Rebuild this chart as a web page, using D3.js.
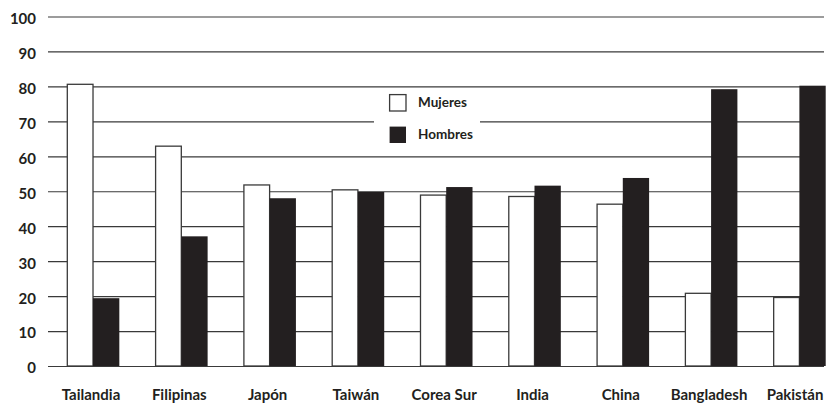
<!DOCTYPE html>
<html>
<head>
<meta charset="utf-8">
<script src="https://cdn.jsdelivr.net/npm/d3@7"></script>
<style>
  html, body { margin: 0; padding: 0; background: #fff; }
  svg { display: block; }
  text { font-family: Lato, "Open Sans", sans-serif; font-weight: 700; fill: #231f20; }
</style>
</head>
<body>
<svg id="chart" width="827" height="405"></svg>
<script>
const categories = ["Tailandia", "Filipinas", "Japón", "Taiwán", "Corea Sur", "India", "China", "Bangladesh", "Pakistán"];
const seriesNames = ["Mujeres", "Hombres"];
const mujeres = [80.6, 62.9, 51.8, 50.4, 48.9, 48.5, 46.3, 20.8, 19.6];
const hombres = [19.4, 37.1, 48.0, 49.8, 51.2, 51.6, 53.8, 79.2, 80.2];
const yTicks = [0, 10, 20, 30, 40, 50, 60, 70, 80, 90, 100];

const svg = d3.select("#chart");
const dark = "#231f20";

const y = d3.scaleLinear().domain([0, 100]).range([366, 16.5]);
const x0 = d3.scaleBand().domain(categories).range([66.7, 825.7]).paddingInner(0.404).paddingOuter(0);
const x1 = d3.scaleBand().domain(seriesNames).range([0, x0.bandwidth()]).padding(0);
const color = d3.scaleOrdinal().domain(seriesNames).range(["#ffffff", dark]);

// gridlines + y labels
const gx = 48, gRight = 824;
const yAxis = d3.axisLeft(y).tickValues(yTicks).tickSize(-(gRight - gx)).tickPadding(12).tickFormat(d3.format("d"));
const ga = svg.append("g").attr("transform", `translate(${gx},0)`).call(yAxis);
ga.select(".domain").remove();
ga.selectAll(".tick line").attr("stroke", "#3a3a3a").attr("stroke-width", 1.2);
ga.selectAll(".tick text").attr("font-size", 15).attr("font-family", null).attr("fill", dark).attr("dy", "0.46em");

// legend background (interrupts the gridline)
svg.append("rect").attr("x", 374).attr("y", 89.5).attr("width", 106).attr("height", 66).attr("fill", "#fff");

// bars
const data = categories.map((c, i) => ({ cat: c, vals: [{ s: "Mujeres", v: mujeres[i] }, { s: "Hombres", v: hombres[i] }] }));
const groups = svg.append("g").selectAll("g").data(data).join("g")
  .attr("transform", d => `translate(${x0(d.cat)},0)`);
groups.selectAll("rect").data(d => d.vals).join("rect")
  .attr("x", d => x1(d.s) + (d.s === "Mujeres" ? 0.6 : 0))
  .attr("y", d => y(d.v))
  .attr("width", d => x1.bandwidth() - (d.s === "Mujeres" ? 0.6 : 0))
  .attr("height", d => y(0) - y(d.v))
  .attr("fill", d => color(d.s))
  .attr("stroke", d => d.s === "Mujeres" ? "#3a3a3a" : "none")
  .attr("stroke-width", 1.3);

// x labels
svg.append("g").selectAll("text").data(categories).join("text")
  .attr("x", d => Math.min(x0(d) + x0.bandwidth() / 2 - 2, 795))
  .attr("y", 400)
  .attr("text-anchor", "middle")
  .attr("font-size", 15)
  .text(d => d);

// legend
const leg = svg.append("g").selectAll("g").data(seriesNames).join("g")
  .attr("transform", (d, i) => `translate(389,${94 + i * 32})`);
leg.append("rect").attr("x", 0.6).attr("y", 0.6).attr("width", 16.4).attr("height", 16.4)
  .attr("fill", d => color(d))
  .attr("stroke", d => d === "Mujeres" ? "#3a3a3a" : "none").attr("stroke-width", 1.3);
leg.append("text").attr("x", 29).attr("y", 12.5).attr("font-size", 13.5).text(d => d);
</script>
</body>
</html>
